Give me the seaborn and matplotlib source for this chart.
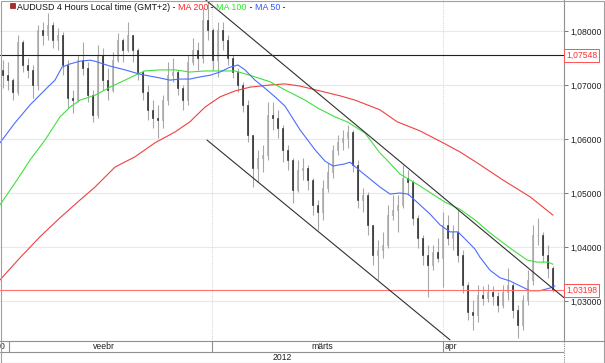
import numpy as np
import pandas as pd
import matplotlib

matplotlib.use("Agg")

import matplotlib.pyplot as plt
from matplotlib.lines import Line2D
from matplotlib.patches import Rectangle
from matplotlib.ticker import FuncFormatter, FixedLocator
import seaborn as sns

sns.set_theme(style="white")
plt.rcParams["font.family"] = ["Liberation Sans", "DejaVu Sans"]

# =========================
# Data (AUDUSD 4H)
# =========================
first_open = 1.0728
highs = [1.0746, 1.0743, 1.0713, 1.0793, 1.0783, 1.0750, 1.0737, 1.0811, 1.0817, 1.0833,
         1.0817, 1.0806, 1.0798, 1.0746, 1.0691, 1.0756, 1.0780, 1.0743, 1.0691, 1.0774,
         1.0769, 1.0731, 1.0761, 1.0796, 1.0787, 1.0817, 1.0793, 1.0769, 1.0728, 1.0700,
         1.0672, 1.0663, 1.0681, 1.0743, 1.0750, 1.0728, 1.0700, 1.0756, 1.0787, 1.0780,
         1.0843, 1.0854, 1.0806, 1.0817, 1.0817, 1.0793, 1.0756, 1.0731, 1.0706, 1.0672,
         1.0607, 1.0580, 1.0589, 1.0668, 1.0668, 1.0654, 1.0626, 1.0589, 1.0565, 1.0561,
         1.0565, 1.0552, 1.0528, 1.0487, 1.0524, 1.0556, 1.0589, 1.0607, 1.0617, 1.0626,
         1.0617, 1.0561, 1.0509, 1.0502, 1.0441, 1.0413, 1.0428, 1.0478, 1.0496, 1.0496,
         1.0552, 1.0543, 1.0524, 1.0459, 1.0422, 1.0404, 1.0404, 1.0417, 1.0465, 1.0459,
         1.0441, 1.0469, 1.0394, 1.0335, 1.0302, 1.0329, 1.0328, 1.0331, 1.0328, 1.0317,
         1.0329, 1.0361, 1.0333, 1.0293, 1.0311, 1.0357, 1.0441, 1.0454, 1.0428, 1.0404,
         1.0365]
lows = [1.0694, 1.0691, 1.0672, 1.0681, 1.0724, 1.0713, 1.0676, 1.0691, 1.0774, 1.0783,
        1.0769, 1.0765, 1.0718, 1.0657, 1.0648, 1.0668, 1.0718, 1.0668, 1.0631, 1.0639,
        1.0691, 1.0672, 1.0687, 1.0743, 1.0743, 1.0761, 1.0743, 1.0709, 1.0672, 1.0635,
        1.0620, 1.0602, 1.0620, 1.0663, 1.0706, 1.0681, 1.0654, 1.0663, 1.0737, 1.0728,
        1.0741, 1.0783, 1.0728, 1.0715, 1.0765, 1.0737, 1.0713, 1.0687, 1.0650, 1.0594,
        1.0511, 1.0520, 1.0539, 1.0561, 1.0617, 1.0602, 1.0557, 1.0543, 1.0481, 1.0502,
        1.0524, 1.0506, 1.0459, 1.0431, 1.0450, 1.0502, 1.0528, 1.0570, 1.0580, 1.0583,
        1.0539, 1.0472, 1.0465, 1.0422, 1.0367, 1.0339, 1.0380, 1.0398, 1.0450, 1.0428,
        1.0472, 1.0496, 1.0441, 1.0398, 1.0367, 1.0307, 1.0357, 1.0372, 1.0326, 1.0404,
        1.0394, 1.0372, 1.0315, 1.0265, 1.0246, 1.0261, 1.0293, 1.0298, 1.0293, 1.0280,
        1.0287, 1.0302, 1.0269, 1.0231, 1.0246, 1.0293, 1.0329, 1.0404, 1.0372, 1.0343,
        1.0317]
closes = [1.0718, 1.0709, 1.0687, 1.0780, 1.0737, 1.0728, 1.0700, 1.0802, 1.0793, 1.0811,
          1.0783, 1.0793, 1.0737, 1.0676, 1.0672, 1.0746, 1.0731, 1.0681, 1.0644, 1.0756,
          1.0709, 1.0691, 1.0746, 1.0783, 1.0765, 1.0793, 1.0765, 1.0724, 1.0687, 1.0654,
          1.0639, 1.0635, 1.0672, 1.0718, 1.0724, 1.0694, 1.0672, 1.0743, 1.0765, 1.0750,
          1.0820, 1.0802, 1.0746, 1.0802, 1.0783, 1.0750, 1.0724, 1.0700, 1.0663, 1.0607,
          1.0546, 1.0565, 1.0570, 1.0644, 1.0639, 1.0620, 1.0580, 1.0561, 1.0506, 1.0543,
          1.0546, 1.0524, 1.0478, 1.0465, 1.0509, 1.0539, 1.0580, 1.0594, 1.0602, 1.0613,
          1.0552, 1.0487, 1.0496, 1.0441, 1.0385, 1.0394, 1.0404, 1.0459, 1.0469, 1.0478,
          1.0528, 1.0520, 1.0454, 1.0417, 1.0385, 1.0367, 1.0391, 1.0380, 1.0441, 1.0417,
          1.0428, 1.0385, 1.0329, 1.0280, 1.0274, 1.0311, 1.0306, 1.0317, 1.0309, 1.0293,
          1.0317, 1.0329, 1.0283, 1.0256, 1.0302, 1.0339, 1.0422, 1.0422, 1.0385, 1.0361,
          1.03198]

# moving averages, sampled along the bar axis
ma200_x = [-0.5, 3.5, 7.5, 11.5, 15.5, 18.5, 22.5, 26.5, 30.5, 34.5, 37.5, 40.5, 43.5, 46.5,
           49.5, 53.5, 56.5, 59.5, 63.5, 67.5, 70.5, 75.5, 78.9, 83.5, 88.1, 91.5, 94.9,
           100.1, 105.5, 110.1]
ma200 = [1.0339, 1.0380, 1.0419, 1.0454, 1.0487, 1.0511, 1.0548, 1.0567, 1.0593, 1.0613,
         1.0632, 1.0659, 1.0678, 1.0689, 1.0696, 1.0700, 1.0702, 1.0698, 1.0689, 1.0680,
         1.0672, 1.0654, 1.0632, 1.0615, 1.0593, 1.0576, 1.0556, 1.0524, 1.0493, 1.0459]
ma100_x = [-0.5, 2.9, 5.5, 8.5, 11.5, 13.5, 15.5, 18.5, 21.5, 24.5, 26.5, 28.5, 31.5, 34.5,
           37.5, 40.5, 43.5, 46.5, 49.5, 53.5, 56.5, 60.5, 63.1, 66.5, 69.1, 72.5, 75.5,
           76.9, 79.5, 83.5, 88.5, 91.5, 94.5, 97.5, 101.5, 104.9, 106.9, 109.1, 110.1]
ma100 = [1.0478, 1.0524, 1.0561, 1.0598, 1.0641, 1.0659, 1.0672, 1.0681, 1.0696, 1.0709,
         1.0718, 1.0726, 1.0728, 1.0728, 1.0724, 1.0726, 1.0726, 1.0726, 1.0718, 1.0706,
         1.0691, 1.0672, 1.0657, 1.0641, 1.0631, 1.0611, 1.0574, 1.0561, 1.0535, 1.0513,
         1.0483, 1.0470, 1.0450, 1.0426, 1.0398, 1.0376, 1.0372, 1.0372, 1.0368]
ma50_x = [-0.5, 2.5, 5.5, 8.5, 10.5, 11.9, 13.5, 15.5, 17.5, 18.5, 21.5, 24.5, 27.5, 31.5,
          33.5, 35.5, 37.5, 39.5, 41.5, 43.5, 45.5, 47.1, 48.5, 50.5, 52.5, 54.5, 56.5, 59.5,
          62.5, 64.5, 66.1, 68.5, 69.5, 71.5, 73.5, 75.5, 77.5, 79.5, 81.1, 83.5, 85.5, 87.5,
          89.5, 91.1, 92.5, 94.5, 95.5, 97.5, 99.5, 101.5, 103.5, 105.5, 107.5, 109.5, 110.5]
ma50 = [1.0593, 1.0630, 1.0663, 1.0691, 1.0709, 1.0733, 1.0739, 1.0744, 1.0746, 1.0744,
        1.0735, 1.0728, 1.0720, 1.0713, 1.0709, 1.0711, 1.0711, 1.0715, 1.0718, 1.0724,
        1.0733, 1.0737, 1.0728, 1.0709, 1.0694, 1.0678, 1.0661, 1.0617, 1.0580, 1.0559,
        1.0550, 1.0554, 1.0557, 1.0541, 1.0526, 1.0511, 1.0498, 1.0500, 1.0498, 1.0478,
        1.0461, 1.0441, 1.0428, 1.0428, 1.0415, 1.0396, 1.0381, 1.0357, 1.0343, 1.0337,
        1.0328, 1.0319, 1.0319, 1.0324, 1.0328]

# drawn analysis lines (bar position, price)
channel_upper = [(40.7, 1.0857), (112.3, 1.0306)]
channel_lower = [(40.9, 1.0598), (89.5, 1.0228)]
level_black = 1.07548
level_red = 1.03198

price_ticks = [1.03, 1.04, 1.05, 1.06, 1.07, 1.08]
month_bounds = [1.3, 41.9, 88.1]
month_labels = ["0", "veebr", "märts", "apr"]
month_label_x = [-0.5, 20.3, 63.9, 88.4]
year_label = "2012"
year_label_x = 55.9

# =========================
# Figure
# =========================
W, H = 605, 363
fig = plt.figure(figsize=(W / 100, H / 100), dpi=100)
fig.patch.set_facecolor("white")
ax = fig.add_axes([0, 22 / H, 564 / W, 341 / H])
XL = (-0.5, 112.3)
ax.set_xlim(*XL)
ax.set_ylim(1.02259, 1.08574)

# grid
for p in price_ticks:
    ax.axhline(p, color="#e8e8e8", lw=0.8, zorder=0)
for b in month_bounds[1:]:
    ax.axvline(b, color="#d8d8d8", lw=0.8, ls=(0, (1, 1)), zorder=0)

# candles
n = len(closes)
xs = np.arange(n)
opens = [first_open] + closes[:-1]
for i in range(n):
    o, h, l, c = opens[i], highs[i], lows[i], closes[i]
    ax.vlines(xs[i], min(l, o, c), max(h, o, c), color="#a8a8a8", lw=0.8, zorder=2)
    up = c >= o
    ax.bar(xs[i], max(abs(c - o), 0.00008), bottom=min(o, c), width=0.34,
           color="#d2d2d2" if up else "#262626",
           edgecolor="#9a9a9a" if up else "#262626", lw=0.4, zorder=3)

# moving averages through seaborn
ma_df = pd.concat([
    pd.DataFrame({"x": ma200_x, "price": ma200, "ma": "MA 200"}),
    pd.DataFrame({"x": ma100_x, "price": ma100, "ma": "MA 100"}),
    pd.DataFrame({"x": ma50_x, "price": ma50, "ma": "MA 50"}),
])
ma_colors = {"MA 200": "#f04040", "MA 100": "#40e040", "MA 50": "#4a6cff"}
sns.lineplot(data=ma_df, x="x", y="price", hue="ma", palette=ma_colors,
             estimator=None, sort=False, legend=False, lw=0.8, ax=ax, zorder=4)

# levels and channel
ax.axhline(level_black, color="#202020", lw=0.8, zorder=5)
ax.axhline(level_red, color="#ff7070", lw=0.8, zorder=5)
for line in (channel_upper, channel_lower):
    ax.plot([line[0][0], line[1][0]], [line[0][1], line[1][1]], color="#303030", lw=0.8, zorder=5)

# right price axis
ax.set_xlabel("")
ax.set_ylabel("")
ax.set_xticks([])
ax.yaxis.tick_right()
ax.yaxis.set_major_locator(FixedLocator(price_ticks))
ax.yaxis.set_major_formatter(FuncFormatter(lambda v, _: f"{v:.5f}".replace(".", ",")))
ax.tick_params(axis="y", right=True, length=3, width=0.6, color="#606060", pad=1.5,
               labelsize=6.2, labelcolor="#202020")
for side in ("top", "left", "bottom"):
    ax.spines[side].set_visible(False)
ax.spines["right"].set_color("#909090")
ax.spines["right"].set_linestyle((0, (1, 1)))
ax.spines["right"].set_linewidth(0.8)

for lvl in (level_black, level_red):
    ax.text(1.0035, lvl, f"{lvl:.5f}".replace(".", ","), transform=ax.get_yaxis_transform(),
            ha="left", va="center", fontsize=6.2, color="#ff3030",
            bbox=dict(boxstyle="square,pad=0.2", fc="white", ec="#ff5050", lw=0.7),
            zorder=10, clip_on=False)

# date axis
axd = fig.add_axes([0, 0, 564 / W, 22 / H])
axd.set_xlim(*XL)
axd.set_ylim(0, 22)
axd.axis("off")
axd.axhline(11, color="#909090", lw=0.8)
for b in month_bounds:
    axd.plot([b, b], [11, 22], color="#909090", lw=0.8)
for lab, lx in zip(month_labels, month_label_x):
    ha = "center" if lab in ("veebr", "märts") else "left"
    axd.text(lx, 16.3, lab, ha=ha, va="center", fontsize=6.2, color="#202020")
axd.text(year_label_x, 5.3, year_label, ha="center", va="center", fontsize=6.2, color="#202020")

# frame lines in figure pixels
def fline(x0, y0, x1, y1, **kw):
    fig.add_artist(Line2D([x0 / W, x1 / W], [1 - y0 / H, 1 - y1 / H], **kw))

fline(0, 341, W, 341, color="#909090", lw=0.8)
fline(564, 341, 564, H, color="#909090", lw=0.8, ls=(0, (1, 1)))
fig.add_artist(Rectangle((0.5 / W, 0.5 / H), 1 - 1.5 / W, 1 - 1.5 / H, fill=False,
                         ec="#a0a0a0", lw=0.8, transform=fig.transFigure))

# title
fig.add_artist(Rectangle((10 / W, 1 - 8 / H), 5 / W, 5 / H, fc="#b02828", ec="#802020",
                         lw=0.5, transform=fig.transFigure))
title_parts = [("AUDUSD 4 Hours Local time (GMT+2)", "#101010"), (" - ", "#101010"),
               ("MA 200", "#ff2020"), (" - ", "#101010"), ("MA 100", "#22ee22"),
               (" - ", "#101010"), ("MA 50", "#3355ff"), (" -", "#101010")]
renderer = fig.canvas.get_renderer()
cx = 17
for txt, col in title_parts:
    t = fig.text(cx / W, 1 - 10.5 / H, txt, color=col, fontsize=6.4, ha="left", va="baseline")
    cx = t.get_window_extent(renderer).x1

fig.savefig("out.png", dpi=100)
